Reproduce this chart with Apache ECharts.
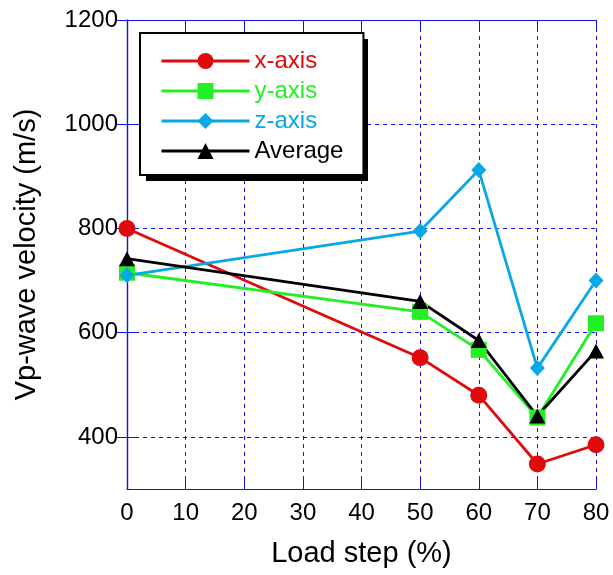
<!DOCTYPE html>
<html>
<head>
<meta charset="utf-8">
<script src="https://cdn.jsdelivr.net/npm/echarts@6/dist/echarts.min.js"></script>
<style>html,body{margin:0;padding:0;background:#fff;}#chart{width:613px;height:575px;}</style>
</head>
<body>
<div id="chart"></div>
<script>
const loadSteps = [0, 50, 60, 70, 80];
const xAxisVel = [800, 552, 480, 348, 385];
const yAxisVel = [715, 640, 567, 437, 618];
const zAxisVel = [710, 795, 912, 532, 700];
const avgVel = [742, 660, 585, 440, 565];
const yTicks = [400, 600, 800, 1000, 1200];
const seriesNames = ['x-axis', 'y-axis', 'z-axis', 'Average'];
const seriesColors = ['#e00a0a', '#22f022', '#08a8e6', '#000000'];

const FONT = 'Liberation Sans, Arial, Helvetica, sans-serif';
const BLUE = '#1010f0';

function pts(vals) { return loadSteps.map((x, i) => [x, vals[i]]); }

const chart = echarts.init(document.getElementById('chart'), null, {renderer: 'canvas'});
const gridLine = {show: true, lineStyle: {color: BLUE, type: [4, 4], width: 1}};
const axisLineStyle = {show: true, lineStyle: {color: BLUE, width: 1.2}};

const symbols = ['circle', 'rect', 'diamond', 'triangle'];
const symSizes = [17, 16, [15, 16], [16, 15]];
const allVals = [xAxisVel, yAxisVel, zAxisVel, avgVel];

chart.setOption({
  animation: false,
  backgroundColor: '#fff',
  textStyle: {fontFamily: FONT},
  grid: {left: 127, right: 17, top: 20, bottom: 86, containLabel: false},
  graphic: [{
    type: 'rect', left: 146, top: 39, z: 3, silent: true,
    shape: {width: 222, height: 142},
    style: {fill: '#000'}
  }],
  legend: {
    orient: 'vertical',
    left: 140, top: 33,
    padding: [16, 20, 12, 20],
    itemGap: 6,
    itemWidth: 88,
    itemHeight: 20,
    backgroundColor: '#fff',
    borderColor: '#000',
    borderWidth: 2,
    z: 5,
    lineStyle: {width: 3},
    data: seriesNames.map((n, i) => ({name: n, textStyle: {color: seriesColors[i]}})),
    textStyle: {fontSize: 24, fontFamily: FONT}
  },
  xAxis: [{
    type: 'value', min: 0, max: 80, interval: 10,
    axisLine: axisLineStyle,
    axisTick: {show: true, inside: true, length: 10, lineStyle: {color: BLUE}},
    axisLabel: {color: '#000', fontSize: 24, margin: 12, fontFamily: FONT},
    splitLine: gridLine,
    name: 'Load step (%)', nameLocation: 'middle', nameGap: 50,
    nameTextStyle: {color: '#000', fontSize: 29, fontFamily: FONT}
  }, {
    type: 'value', min: 0, max: 80, interval: 10, position: 'top',
    axisLine: axisLineStyle,
    axisTick: {show: true, inside: true, length: 12, lineStyle: {color: BLUE}},
    axisLabel: {show: false}, splitLine: {show: false}
  }],
  yAxis: [{
    type: 'value', min: 300, max: 1200,
    axisLine: axisLineStyle,
    axisTick: {show: true, inside: true, length: 12, customValues: yTicks, lineStyle: {color: BLUE}},
    axisLabel: {color: '#000', fontSize: 24, margin: 9, customValues: yTicks, fontFamily: FONT,
      formatter: v => String(v)},
    splitLine: gridLine,
    name: 'Vp-wave velocity (m/s)', nameLocation: 'middle', nameGap: 86, nameRotate: 90,
    nameTextStyle: {color: '#000', fontSize: 29, fontFamily: FONT}
  }, {
    type: 'value', min: 300, max: 1200, position: 'right',
    axisLine: axisLineStyle,
    axisTick: {show: true, inside: true, length: 12, customValues: yTicks, lineStyle: {color: BLUE}},
    axisLabel: {show: false}, splitLine: {show: false}
  }],
  series: seriesNames.map((n, i) => ({
    name: n,
    type: 'line',
    xAxisIndex: 0, yAxisIndex: 0,
    data: pts(allVals[i]),
    symbol: symbols[i],
    symbolSize: symSizes[i],
    showAllSymbol: true,
    clip: false,
    lineStyle: {color: seriesColors[i], width: 2.8},
    itemStyle: {color: seriesColors[i], borderWidth: 0}
  }))
});
</script>
</body>
</html>
